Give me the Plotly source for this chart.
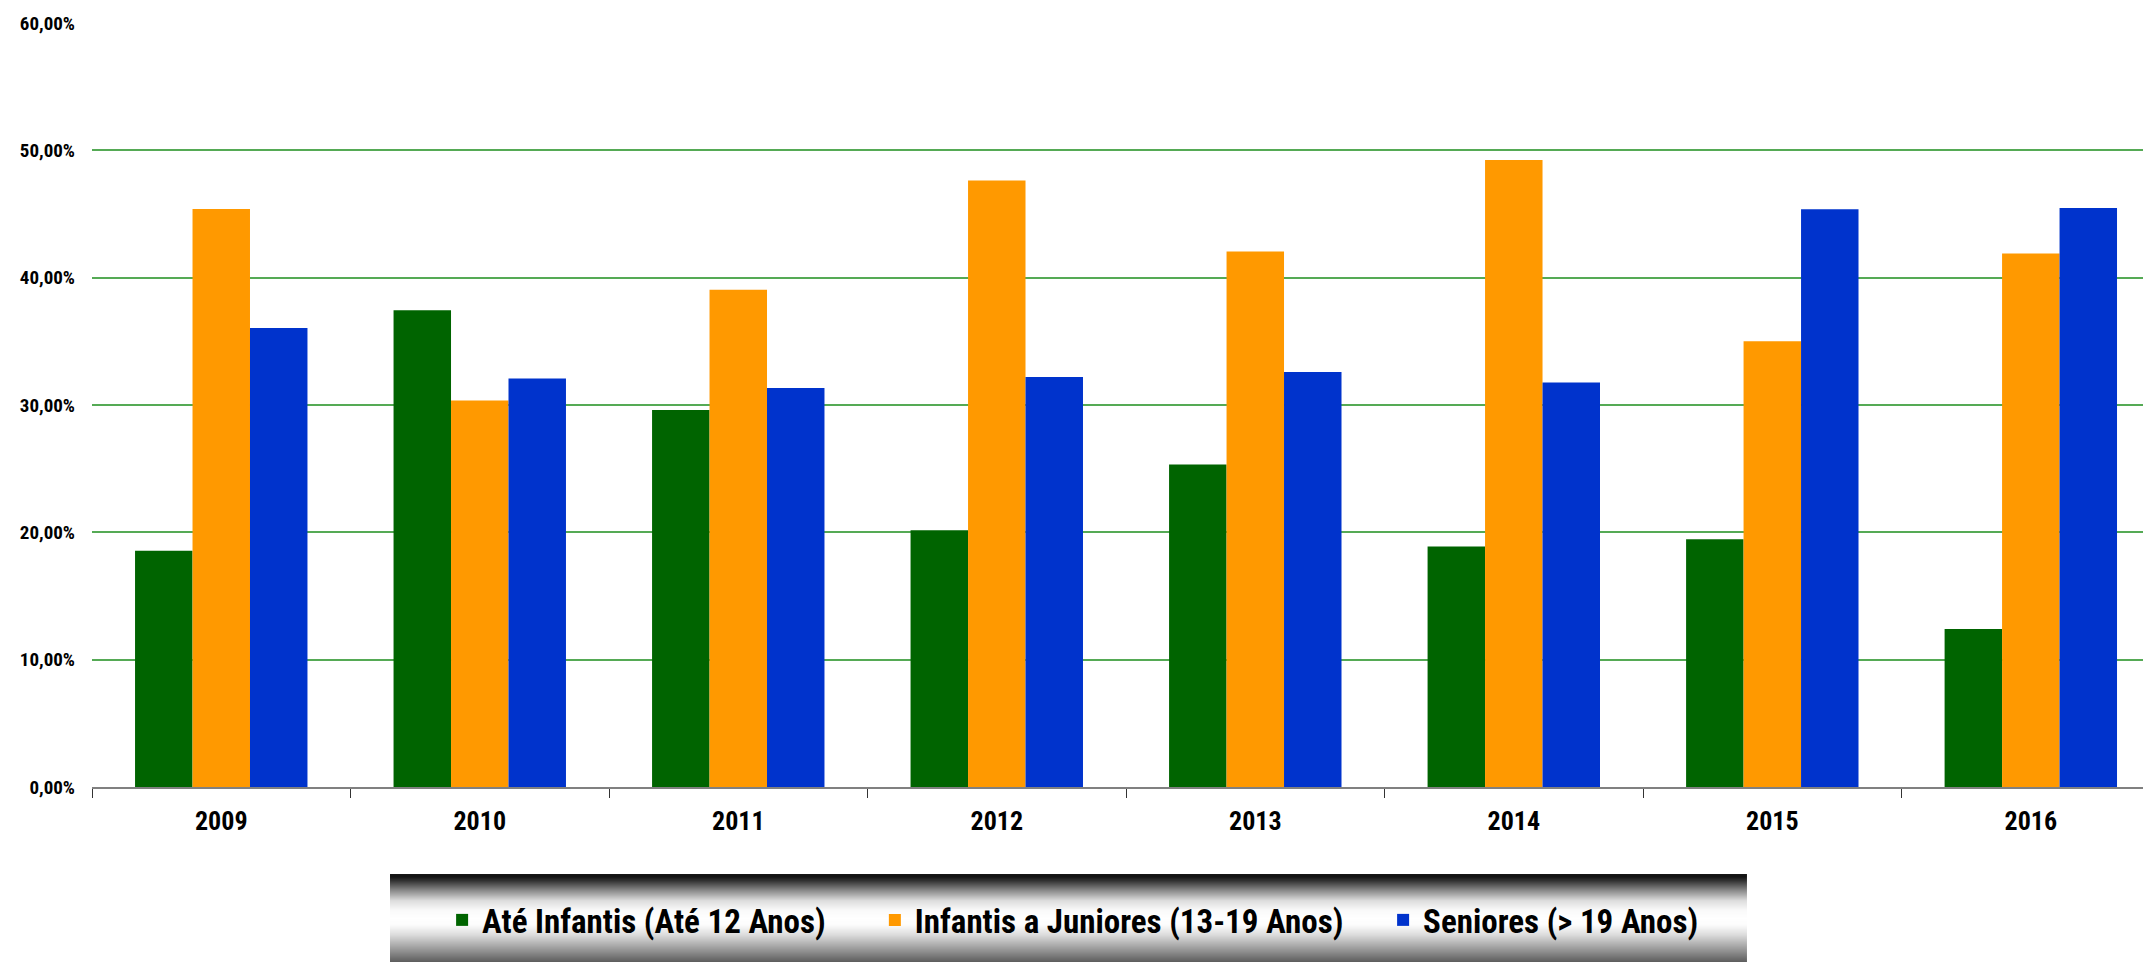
import base64
import struct
import zlib
import plotly.graph_objects as go

# ---------------- data ----------------
years = ["2009", "2010", "2011", "2012", "2013", "2014", "2015", "2016"]
ate_infantis = [18.56, 37.45, 29.60, 20.17, 25.32, 18.88, 19.45, 12.40]
infantis_juniores = [45.40, 30.36, 39.06, 47.64, 42.06, 49.25, 35.00, 41.90]
seniores = [36.05, 32.08, 31.33, 32.19, 32.60, 31.76, 45.37, 45.47]

series_names = ["Até Infantis (Até 12 Anos)",
                "Infantis a Juniores (13-19 Anos)",
                "Seniores (> 19 Anos)"]
series_colors = ["#006400", "#FF9900", "#0033CC"]

y_ticks = [0, 10, 20, 30, 40, 50, 60]
y_ticktext = [f"{v:.2f}".replace(".", ",") + "%" for v in y_ticks]
grid_ticks = [10, 20, 30, 40, 50]

FONT = "Roboto Condensed, Roboto, sans-serif"


# ---------------- legend background gradient (PNG built in memory) ----------------
def gradient_png(height=88, width=4):
    stops = [(0.0, 20), (0.025, 20), (0.07, 50), (0.18, 136), (0.30, 221),
             (0.41, 250), (0.50, 255), (0.58, 252), (0.69, 221), (0.86, 153), (1.0, 95)]

    def val(t):
        for (t0, v0), (t1, v1) in zip(stops[:-1], stops[1:]):
            if t0 <= t <= t1:
                if t1 == t0:
                    return v0
                return v0 + (v1 - v0) * (t - t0) / (t1 - t0)
        return stops[-1][1]

    raw = b""
    for i in range(height):
        g = int(round(val(i / (height - 1))))
        raw += b"\x00" + bytes([g, g, g]) * width

    def chunk(tag, data):
        c = struct.pack(">I", len(data)) + tag + data
        return c + struct.pack(">I", zlib.crc32(tag + data) & 0xFFFFFFFF)

    png = b"\x89PNG\r\n\x1a\n"
    png += chunk(b"IHDR", struct.pack(">IIBBBBB", width, height, 8, 2, 0, 0, 0))
    png += chunk(b"IDAT", zlib.compress(raw, 9))
    png += chunk(b"IEND", b"")
    return "data:image/png;base64," + base64.b64encode(png).decode()


fig = go.Figure()
legend_ids = ["legend", "legend2", "legend3"]
for name, vals, color, lg in zip(series_names,
                                 [ate_infantis, infantis_juniores, seniores],
                                 series_colors, legend_ids):
    fig.add_trace(go.Bar(
        x=years, y=vals, name=name,
        marker=dict(color=color, line=dict(width=0)),
        legend=lg,
        hovertemplate="%{x}: %{y:.2f}%<extra>" + name + "</extra>",
    ))

legend_common = dict(
    orientation="h",
    bgcolor="rgba(0,0,0,0)",
    font=dict(family=FONT, size=33, color="#000000", weight="bold"),
    yanchor="middle",
    xanchor="left",
    y=-0.174,
)

fig.update_layout(
    width=2143,
    height=962,
    margin=dict(l=92, r=0, t=23, b=175),
    paper_bgcolor="white",
    plot_bgcolor="white",
    bargap=0.333,
    bargroupgap=0,
    barmode="group",
    font=dict(family=FONT, color="#000000"),
    xaxis=dict(
        type="category",
        range=[-0.5, 7.434],
        showline=True,
        linecolor="#808080",
        linewidth=2,
        ticks="outside",
        tickson="boundaries",
        ticklen=9,
        tickwidth=1,
        tickcolor="#333333",
        showgrid=False,
        ticklabelstandoff=10,
        tickfont=dict(family=FONT, size=26, color="#000000", weight="bold"),
    ),
    yaxis=dict(
        range=[0, 60],
        tickvals=y_ticks,
        ticktext=y_ticktext,
        showgrid=False,
        zeroline=False,
        showline=False,
        ticks="",
        ticklabelstandoff=16,
        tickfont=dict(family=FONT, size=19, color="#000000", weight="bold"),
    ),
    yaxis2=dict(
        overlaying="y",
        range=[0, 60],
        tickvals=grid_ticks,
        showticklabels=False,
        showgrid=True,
        gridcolor="#55AA55",
        gridwidth=1.5,
        zeroline=False,
        showline=False,
        ticks="",
    ),
    legend=dict(legend_common, x=0.1707),
    legend2=dict(legend_common, x=0.3817),
    legend3=dict(legend_common, x=0.6295),
    images=[dict(
        source=gradient_png(),
        xref="paper", yref="paper",
        x=0.1453, y=-0.1139,
        sizex=0.6616, sizey=0.1152,
        sizing="stretch",
        xanchor="left", yanchor="top",
        layer="below",
    )],
)

# invisible helper trace so yaxis2 (gridlines only) is rendered
fig.add_trace(go.Scatter(x=[years[0]], y=[None], yaxis="y2", showlegend=False,
                         hoverinfo="skip", mode="markers"))

fig.write_html("out.html", config={"displayModeBar": False},
               post_script="document.body.style.margin='0';")
